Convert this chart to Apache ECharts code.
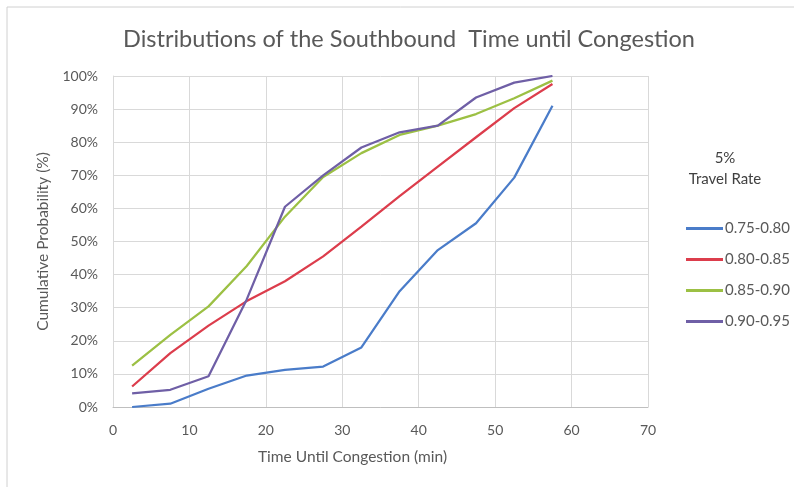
<!DOCTYPE html>
<html>
<head>
<meta charset="utf-8">
<script src="https://cdn.jsdelivr.net/npm/echarts@6/dist/echarts.min.js"></script>
<style>
  html, body { margin: 0; padding: 0; background: #ffffff; }
  #chart { width: 794px; height: 487px; }
</style>
</head>
<body>
<div id="chart"></div>
<script>
// Time until congestion (min), bin midpoints
const minutes = [2.5, 7.5, 12.5, 17.5, 22.5, 27.5, 32.5, 37.5, 42.5, 47.5, 52.5, 57.5];

// Cumulative probability (%) per 5% travel-rate band
const rate075_080 = [0, 1, 5.5, 9.5, 11.2, 12.2, 18, 35, 47.4, 55.5, 69.3, 91];
const rate080_085 = [6.2, 16.3, 24.6, 32, 38, 45.5, 54.5, 63.7, 72.6, 81.5, 90.3, 97.6];
const rate085_090 = [12.5, 21.8, 30.4, 42.6, 57.5, 69.5, 76.7, 82.2, 85, 88.5, 93.3, 98.6];
const rate090_095 = [4.1, 5.2, 9.3, 32.5, 60.5, 70, 78.4, 83, 85, 93.5, 98, 100];

const seriesNames = ['0.75-0.80', '0.80-0.85', '0.85-0.90', '0.90-0.95'];
const seriesValues = [rate075_080, rate080_085, rate085_090, rate090_095];
const seriesColors = ['#4a7cc9', '#dc3d4c', '#9cc044', '#6f5fa6'];

const textColor = '#595959';
const fontFamily = 'Lato, "Open Sans", sans-serif';

const chart = echarts.init(document.getElementById('chart'), null, { renderer: 'canvas' });

chart.setOption({
  backgroundColor: '#ffffff',
  animation: false,
  textStyle: { fontFamily: fontFamily, color: textColor },
  title: {
    text: 'Distributions of the Southbound  Time until Congestion',
    left: 118,
    top: 22,
    textStyle: { fontFamily: fontFamily, fontSize: 23.5, fontWeight: 'normal', color: textColor }
  },
  graphic: [
    // chart frame edges
    { type: 'line', shape: { x1: 7, y1: 7, x2: 794, y2: 7 }, style: { stroke: '#d0d0d0', lineWidth: 1 } },
    { type: 'line', shape: { x1: 7, y1: 7, x2: 7, y2: 487 }, style: { stroke: '#d0d0d0', lineWidth: 1 } },
    // legend heading
    {
      type: 'text',
      style: { x: 725, y: 158, text: '5%', font: '15px ' + fontFamily, fill: '#404040', textAlign: 'center', textVerticalAlign: 'middle' }
    },
    {
      type: 'text',
      style: { x: 725, y: 179, text: 'Travel Rate', font: '15px ' + fontFamily, fill: '#404040', textAlign: 'center', textVerticalAlign: 'middle' }
    }
  ],
  legend: {
    orient: 'vertical',
    left: 681,
    top: 216,
    itemWidth: 37,
    itemHeight: 3,
    itemGap: 16,
    icon: 'rect',
    data: seriesNames,
    textStyle: { fontFamily: fontFamily, fontSize: 15, color: textColor, padding: [0, 0, 0, -3] }
  },
  grid: { left: 113, right: 146, top: 76, bottom: 80, containLabel: false },
  xAxis: {
    type: 'value',
    min: 0, max: 70, interval: 10,
    name: 'Time Until Congestion (min)',
    nameLocation: 'middle',
    nameGap: 42,
    nameTextStyle: { fontFamily: fontFamily, fontSize: 15.5, color: textColor, padding: [0, 56, 0, 0] },
    axisLine: { show: true, lineStyle: { color: '#bfbfbf' } },
    axisTick: { show: false },
    axisLabel: { fontFamily: fontFamily, fontSize: 14, color: textColor, margin: 16 },
    splitLine: { show: true, lineStyle: { color: '#d9d9d9' } }
  },
  yAxis: {
    type: 'value',
    min: 0, max: 100, interval: 10,
    name: 'Cumulative Probability (%)',
    nameLocation: 'middle',
    nameGap: 62,
    nameTextStyle: { fontFamily: fontFamily, fontSize: 15.5, color: textColor },
    axisLine: { show: true, lineStyle: { color: '#d9d9d9' } },
    axisTick: { show: false },
    axisLabel: { fontFamily: fontFamily, fontSize: 14, color: textColor, margin: 15, formatter: '{value}%' },
    splitLine: { show: true, lineStyle: { color: '#d9d9d9' } }
  },
  series: seriesNames.map((name, i) => ({
    name: name,
    type: 'line',
    data: minutes.map((m, j) => [m, seriesValues[i][j]]),
    showSymbol: false,
    symbol: 'none',
    lineStyle: { width: 2.25, color: seriesColors[i] },
    itemStyle: { color: seriesColors[i] }
  }))
});
</script>
</body>
</html>
